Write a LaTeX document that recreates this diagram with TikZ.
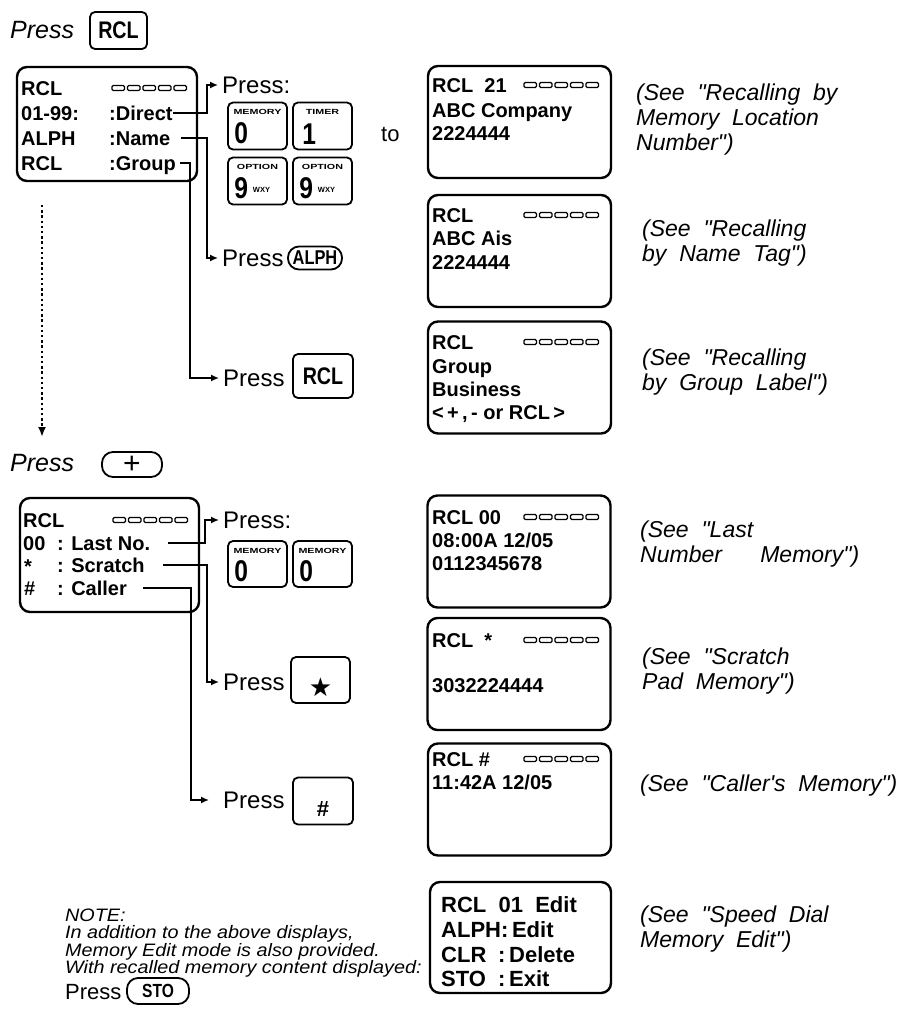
\documentclass[tikz,border=0pt]{standalone}
\usepackage{fontspec}
\setmainfont{Liberation Sans}
\newfontfamily\narrowfont{Liberation Sans}[FakeStretch=0.82]
\newfontfamily\capfont{Liberation Sans}[FakeStretch=1.45]
\newfontfamily\widefont{Liberation Sans}[FakeStretch=1.1]
\newfontfamily\seefont{Liberation Sans}[WordSpace=2]
\newfontfamily\symbolfont{DejaVu Sans}
\usetikzlibrary{arrows.meta,positioning}
\tikzset{
  rclpanel/.style={draw,line width=2.4pt,rounded corners=10pt,inner sep=0pt,
                   minimum width=183pt,minimum height=112pt},
  rclkey/.style={draw,line width=1.8pt,rounded corners=5pt,inner sep=0pt,
                 minimum width=59pt,minimum height=47pt,
                 font=\narrowfont\bfseries\fontsize{24}{24}\selectfont},
  rclpill/.style={draw,line width=1.8pt,rounded corners=11pt,inner sep=0pt,
                  minimum height=23pt,
                  font=\narrowfont\bfseries\fontsize{20}{20}\selectfont},
  rclcap/.style={inner sep=0pt,font=\capfont\bfseries\fontsize{7.4}{7.4}\selectfont},
  rcldigit/.style={inner sep=0pt,font=\narrowfont\bfseries\fontsize{30}{30}\selectfont},
  rcltext/.style={anchor=west,inner sep=0pt,text height=14pt,text depth=0pt,
                  font=\bfseries\fontsize{20}{24}\selectfont},
  rcledit/.style={rcltext,text height=16pt,font=\bfseries\fontsize{22}{22}\selectfont},
  rclpress/.style={anchor=west,inner sep=0pt,text height=17pt,text depth=0pt,
                   font=\fontsize{24}{24}\selectfont},
  rclsee/.style={anchor=west,align=left,inner sep=0pt,
                 font=\seefont\itshape\fontsize{23}{25}\selectfont},
  rclnote/.style={anchor=north west,align=left,inner sep=0pt,
                  font=\widefont\itshape\fontsize{18}{17.5}\selectfont},
  rclarrow/.style={-{Latex[length=8pt,width=7pt]},line width=1.5pt,shorten >=4pt},
  rcldots/.style={-{Latex[length=10pt,width=8pt]},line width=2.6pt,
                  dash pattern=on 2.4pt off 2.8pt},
  rclbar/.pic={\foreach \seg in {0,...,4}
      \draw[line width=1.3pt,rounded corners=1.2pt] (\seg*15.5,-2.5) rectangle ++(12.5,5);}
}
\begin{document}
\begin{tikzpicture}[x=1pt,y=-1pt]
  \useasboundingbox (0,0) rectangle (915,1009);

  % RCL menu
  \node[rclpress,font=\itshape\fontsize{25}{25}\selectfont] (pressTop) at (10,30) {Press};
  \node[rclkey,minimum width=57pt,minimum height=37pt] (rclTop) at (118.5,30.5) {RCL};
  \node[rclpanel,minimum width=180pt,minimum height=114pt] (menuRcl) at (107,124) {};
  \node[rcltext] (menuHead) at (21,88) {RCL};
  \pic at (112,88) {rclbar};
  \node[rcltext] (menuDirect) at (21,113) {01-99:};
  \node[rcltext] (menuName) at (21,138) {ALPH};
  \node[rcltext] (menuGroup) at (21,163) {RCL};
  \node[rcltext] (direct) at (109,113) {:Direct};
  \node[rcltext] (name) at (109,138) {:Name};
  \node[rcltext] (group) at (109,163) {:Group};

  \node[rclpress] (pressDirect) at (222,85) {Press:};
  \node[rclkey,label={[rclcap,anchor=north,yshift=-8pt]north:MEMORY},
    label={[rcldigit,anchor=south west,xshift=7pt,yshift=6pt]south west:0}]
    (memKey) at (257.5,126) {};
  \node[rclkey,label={[rclcap,anchor=north,yshift=-8pt]north:TIMER},
    label={[rcldigit,anchor=south west,xshift=10pt,yshift=6pt]south west:1}]
    (timerKey) at (322.5,126) {};
  \node[rclkey,label={[rclcap,anchor=north,yshift=-8pt]north:OPTION},
    label={[rcldigit,anchor=south west,xshift=7pt,yshift=6pt]south west:9\,\raisebox{6pt}{\normalfont\bfseries\fontsize{7.5}{7.5}\selectfont WXY}}]
    (optKeyA) at (257.5,181) {};
  \node[rclkey,label={[rclcap,anchor=north,yshift=-8pt]north:OPTION},
    label={[rcldigit,anchor=south west,xshift=7pt,yshift=6pt]south west:9\,\raisebox{6pt}{\normalfont\bfseries\fontsize{7.5}{7.5}\selectfont WXY}}]
    (optKeyB) at (322.5,181) {};
  \node[rclpress,font=\fontsize{22}{22}\selectfont] (toWord) at (381,133) {to};

  \node[rclpress] (pressName) at (222,258) {Press};
  \node[rclpill,minimum width=54pt] (alphKey) at (315,258) {ALPH};
  \node[rclpress] (pressGroup) at (223,378) {Press};
  \node[rclkey,minimum width=60pt,minimum height=44pt] (rclKey) at (323,376) {RCL};

  \draw[rclarrow] (direct.east) -| ([xshift=-15pt]pressDirect.west) -- (pressDirect.west);
  \draw[rclarrow,shorten <=10pt] (name.east) -| ([xshift=-15pt]pressName.west) -- (pressName.west);
  \draw[rclarrow,shorten <=4pt] (group.east) -| ([xshift=-33pt]pressGroup.west) -- (pressGroup.west);

  % recalled displays
  \node[rclpanel] (showDirect) at (519.5,122) {};
  \node[rcltext] (showDirect1) at (432,85) {RCL\ \ 21};
  \pic at (524,85) {rclbar};
  \node[rcltext] (showDirect2) at (432,110) {ABC Company};
  \node[rcltext] (showDirect3) at (432,133) {2224444};
  \node[rclsee] (seeDirect) at (636,120) {(See "Recalling by\\Memory Location\\Number")};

  \node[rclpanel] (showName) at (519.5,251) {};
  \node[rcltext] (showName1) at (432,215) {RCL};
  \pic at (524,215) {rclbar};
  \node[rcltext] (showName2) at (432,238) {ABC Ais};
  \node[rcltext] (showName3) at (432,262) {2224444};
  \node[rclsee] (seeName) at (642,243.5) {(See "Recalling\\by Name Tag")};

  \node[rclpanel] (showGroup) at (519.5,377.5) {};
  \node[rcltext] (showGroup1) at (432,342) {RCL};
  \pic at (524,342) {rclbar};
  \node[rcltext] (showGroup2) at (432,366) {Group};
  \node[rcltext] (showGroup3) at (432,389) {Business};
  \node[rcltext] (showGroup4) at (432,412) {<\,+\,,\,- or RCL\,>};
  \node[rclsee] (seeGroup) at (642,372) {(See "Recalling\\by Group Label")};

  \coordinate (dotTop) at (42,205);
  \coordinate (dotEnd) at (42,437);
  \draw[rcldots] (dotTop) -- (dotEnd);

  % + menu
  \node[rclpress,font=\itshape\fontsize{25}{25}\selectfont] (pressPlus) at (10,463) {Press};
  \node[rclpill,minimum width=60pt,minimum height=25pt,font=\fontsize{30}{30}\selectfont]
    (plusKey) at (132,464.5) {+};
  \node[rclpanel,minimum width=179pt,minimum height=114pt] (menuPlus) at (109.5,555) {};
  \node[rcltext] (plusHead) at (23,520) {RCL};
  \pic at (113,520) {rclbar};
  \node[rcltext] (plusLast) at (23,543) {00};
  \node[rcltext] (plusStar) at (24,566) {*};
  \node[rcltext] (plusHash) at (24,588) {\#};
  \node[rcltext] (lastNo) at (57,543) {: Last No.};
  \node[rcltext] (scratch) at (57,565) {: Scratch};
  \node[rcltext] (caller) at (57,588) {: Caller};

  \node[rclpress] (pressLast) at (223,520) {Press:};
  \node[rclkey,minimum height=46pt,label={[rclcap,anchor=north,yshift=-8pt]north:MEMORY},
    label={[rcldigit,anchor=south west,xshift=7pt,yshift=6pt]south west:0}]
    (memKeyA) at (257.5,564) {};
  \node[rclkey,minimum height=46pt,label={[rclcap,anchor=north,yshift=-8pt]north:MEMORY},
    label={[rcldigit,anchor=south west,xshift=7pt,yshift=6pt]south west:0}]
    (memKeyB) at (322.5,564) {};
  \node[rclpress] (pressStar) at (223,682) {Press};
  \node[rclkey,minimum height=46pt,
    label={[anchor=south,yshift=4pt,font=\symbolfont\fontsize{26}{26}\selectfont]south:★}]
    (starKey) at (320.5,680) {};
  \node[rclpress] (pressHash) at (223,800) {Press};
  \node[rclkey,minimum width=60pt,
    label={[anchor=south,yshift=5pt,font=\bfseries\fontsize{22}{22}\selectfont]south:\#}]
    (hashKey) at (323,801) {};

  \draw[rclarrow,shorten <=18pt] (lastNo.east) -| ([xshift=-18pt]pressLast.west) -- (pressLast.west);
  \draw[rclarrow,shorten <=18pt] (scratch.east) -| ([xshift=-16pt]pressStar.west) -- (pressStar.west);
  \draw[rclarrow,shorten <=16pt,shorten >=14pt] (caller.east) -| ([xshift=-32pt]pressHash.west) -- (pressHash.west);

  \node[rclpanel] (showLast) at (519,551.5) {};
  \node[rcltext] (showLast1) at (432,517) {RCL 00};
  \pic at (524,517) {rclbar};
  \node[rcltext] (showLast2) at (432,540) {08:00A 12/05};
  \node[rcltext] (showLast3) at (432,563) {0112345678};
  \node[rclsee] (seeLast) at (640,544) {(See "Last\\Number\ \ \ Memory")};

  \node[rclpanel] (showScratch) at (519,674) {};
  \node[rcltext] (showScratch1) at (432,640) {RCL\ \ *};
  \pic at (524,640) {rclbar};
  \node[rcltext] (showScratch2) at (432,685) {3032224444};
  \node[rclsee] (seeScratch) at (642,671.5) {(See "Scratch\\Pad Memory")};

  \node[rclpanel] (showCaller) at (519.5,799.5) {};
  \node[rcltext] (showCaller1) at (432,759) {RCL \#};
  \pic at (524,759) {rclbar};
  \node[rcltext] (showCaller2) at (432,782) {11:42A 12/05};
  \node[rclsee] (seeCaller) at (640,786) {(See "Caller's Memory")};

  % memory edit
  \node[rclnote] (note) at (65,908.5) {NOTE:\\In addition to the above displays,\\Memory Edit mode is also provided.\\With recalled memory content displayed:};
  \node[rclpress,font=\fontsize{22}{22}\selectfont] (pressSto) at (65,991) {Press};
  \node[rclpill,minimum width=62pt,minimum height=26pt,
    font=\narrowfont\bfseries\fontsize{19}{19}\selectfont] (stoKey) at (158,991) {STO};
  \node[rclpanel,minimum width=181pt,minimum height=111pt] (showEdit) at (520.5,937.5) {};
  \node[rcledit] (showEdit1) at (441,904) {RCL\ \ 01\ \ Edit};
  \node[rcledit] (showEdit2) at (441,929) {ALPH:\,Edit};
  \node[rcledit] (showEdit3) at (441,954) {\makebox[57pt][l]{CLR}:\,Delete};
  \node[rcledit] (showEdit4) at (441,978) {\makebox[57pt][l]{STO}:\,Exit};
  \node[rclsee] (seeEdit) at (640,929.5) {(See "Speed Dial\\Memory Edit")};
\end{tikzpicture}
\end{document}
